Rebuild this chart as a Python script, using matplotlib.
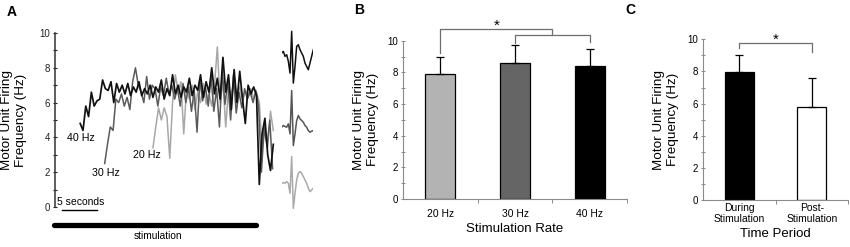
import numpy as np
import matplotlib
matplotlib.use("Agg")
import matplotlib.pyplot as plt

plt.rcParams['font.family'] = ['Liberation Sans', 'DejaVu Sans']

# ---- panel A: firing frequency traces (Hz), sampled every 0.4 s ----
t0_40, t0_30, t0_20 = 3.6, 7.1, 14.0
step = 0.4
f40 = [4.8, 4.4, 5.8, 5.2, 6.6, 5.8, 6.1, 6.2, 7.3, 6.8, 6.7, 7.2, 6.0, 7.1, 6.6, 7.0,
       6.5, 7.1, 6.4, 6.9, 6.6, 7.2, 6.4, 6.8, 6.5, 7.0, 6.3, 6.9, 6.6, 7.3, 6.2, 6.8,
       6.4, 7.6, 6.5, 7.0, 6.3, 6.9, 6.6, 7.4, 6.4, 7.0, 6.7, 7.6, 6.3, 7.2, 6.6, 8.0,
       6.5, 7.4, 6.2, 8.6, 6.6, 7.6, 5.6, 7.9, 6.0, 7.8, 6.2, 4.8, 7.0, 6.5, 6.9, 6.4,
       1.3, 4.2, 5.1, 3.0, 2.1, 3.6]
f30 = [2.5, 3.6, 4.6, 4.4, 6.2, 6.0, 6.5, 5.8, 6.3, 5.6, 7.2, 8.0, 7.0, 6.6, 6.0, 7.5,
       6.2, 7.0, 6.8, 5.8, 6.9, 6.4, 7.4, 6.5, 7.0, 6.2, 6.8, 5.8, 7.1, 6.0, 6.9, 5.5,
       6.7, 4.3, 7.3, 6.1, 6.9, 5.8, 7.5, 5.5, 6.8, 4.6, 7.8, 5.9, 7.2, 5.0, 7.6, 5.4,
       6.6, 5.7, 6.8, 6.2, 6.6, 6.0, 6.7, 5.8, 2.0, 4.6, 3.5, 5.0, 2.2]
f20 = [3.4, 4.6, 5.7, 5.0, 5.7, 5.2, 2.8, 6.0, 7.6, 6.6, 7.2, 4.2, 6.8, 6.2, 7.0, 5.6,
       6.6, 6.0, 7.1, 5.9, 6.5, 5.8, 7.0, 9.2, 6.0, 7.2, 4.6, 6.8, 6.4, 7.4, 6.3, 6.9,
       6.1, 6.7, 6.4, 6.8, 6.2, 6.6, 6.0, 3.3, 4.5, 3.4, 5.5, 4.4]
trace_labels = ["40 Hz", "30 Hz", "20 Hz"]

# spike waveforms (arbitrary units)
wave_40 = [0, 0.25, -0.5, -0.25, -1.25, -3, 3.25, -4.5, -2, 1, 1.25, 0.5, 0, -0.5,
           -1.5, -2, -2.5, -1.5, -0.5, 0.5]
wave_30 = [0, 0.25, 0.1, 0, 0.5, -1, 5.5, -2.75, -1, 1, 1.75, 1.25, 1, 0.75, 0.25,
           0, -0.5, -0.75, -0.6, -0.5]
wave_20 = [0, 0.1, 0, 0.25, 0, -1.5, 4, -3.75, -1.5, 0.5, 1.5, 1.75, 1.5, 1, 0.5,
           0, -0.75, -1.25, -1, -0.75]

# ---- panel B ----
rates = ["20 Hz", "30 Hz", "40 Hz"]
rate_mean = [7.9, 8.6, 8.4]
rate_sd = [1.1, 1.1, 1.05]
rate_colors = ["#b3b3b3", "#656565", "#000000"]

# ---- panel C ----
periods = ["During\nStimulation", "Post-\nStimulation"]
period_mean = [7.95, 5.8]
period_sd = [1.05, 1.8]
period_colors = ["#000000", "#ffffff"]

W, H = 850, 247
fig = plt.figure(figsize=(W / 100, H / 100), dpi=100)


def px_axes(x0, x1, ytop, ybot):
    return fig.add_axes([x0 / W, (H - ybot) / H, (x1 - x0) / W, (ybot - ytop) / H])


ylab = "Motor Unit Firing\nFrequency (Hz)"

# ================= A =================
axA = px_axes(55, 274, 33, 207)
for vals, t0, col, lw in [(f20, t0_20, "#a8a8a8", 1.1),
                          (f30, t0_30, "#5a5a5a", 1.1),
                          (f40, t0_40, "#111111", 1.25)]:
    t = t0 + step * np.arange(len(vals))
    axA.plot(t, vals, color=col, lw=lw, clip_on=False)
axA.set_xlim(0, 31.3)
axA.set_ylim(0, 10)
for s in ["top", "right", "bottom"]:
    axA.spines[s].set_visible(False)
axA.spines["left"].set_color("#333333")
axA.spines["left"].set_linewidth(1.1)
axA.set_xticks([])
axA.set_yticks(range(0, 11, 2))
axA.set_yticks(range(1, 10, 2), minor=True)
axA.tick_params(axis="y", which="both", direction="inout", length=3, width=0.8,
                labelsize=7, pad=2, colors="#222222")
axA.set_ylabel(ylab, fontsize=9.7, va="center", linespacing=1.15)
axA.yaxis.set_label_coords(-0.187, 0.5)

axA.text(3.7, 3.97, trace_labels[0], fontsize=7.7, ha="center", va="center")
axA.text(7.3, 1.95, trace_labels[1], fontsize=7.7, ha="center", va="center")
axA.text(13.2, 3.0, trace_labels[2], fontsize=7.7, ha="center", va="center")

# scale bar and stimulation bar
axA.plot([1, 6], [-0.2, -0.2], color="k", lw=1.0, clip_on=False)
axA.text(0.3, 0.0, "5 seconds", fontsize=7.5, ha="left", va="bottom")
axA.plot([-0.2, 28.7], [-1.03, -1.03], color="k", lw=3.8, solid_capstyle="round",
         clip_on=False)
axA.text(14.7, -1.68, "stimulation", fontsize=7.3, ha="center", va="center")

# waveforms
axW = px_axes(281.7, 313.3, 30, 210)
offsets = [0, -11.1, -19.5]
for w, off, col in [(wave_40, offsets[0], "#111111"),
                    (wave_30, offsets[1], "#555555"),
                    (wave_20, offsets[2], "#aaaaaa")]:
    axW.plot(np.arange(len(w)), np.array(w) + off, color=col, lw=1.1)
axW.set_xlim(0, 19)
axW.set_ylim(-23.5, 3.45)
axW.axis("off")


def bar_panel(ax, labels, means, sds, colors, xlabel, lab_x, tick_pad):
    x = np.arange(len(labels))
    ax.bar(x, means, width=0.4, color=colors, edgecolor="k", linewidth=0.9, zorder=2)
    ax.errorbar(x, means, yerr=[np.zeros(len(x)), sds], fmt="none", ecolor="k",
                elinewidth=0.9, capsize=3, capthick=0.9, zorder=3)
    ax.set_xlim(-0.5, len(x) - 0.5)
    ax.set_ylim(0, 10)
    for s in ["top", "right"]:
        ax.spines[s].set_visible(False)
    for s in ["left", "bottom"]:
        ax.spines[s].set_color("#8a8a8a")
        ax.spines[s].set_linewidth(0.8)
    ax.set_yticks(range(0, 11, 2))
    ax.set_yticks(range(1, 10, 2), minor=True)
    ax.tick_params(axis="y", which="both", direction="inout", length=3, width=0.7,
                   labelsize=7, pad=2, color="#8a8a8a")
    ax.set_xticks(x)
    ax.set_xticklabels(labels, fontsize=7.5, linespacing=1.1)
    ax.set_xticks(np.arange(len(x)) + 0.5, minor=True)
    ax.tick_params(axis="x", which="major", length=0, pad=tick_pad)
    ax.tick_params(axis="x", which="minor", direction="out", length=3, width=0.7,
                   color="#8a8a8a")
    ax.set_xlabel(xlabel, fontsize=9.5, labelpad=3)
    ax.set_ylabel(ylab, fontsize=9.7, va="center", linespacing=1.15)
    ax.yaxis.set_label_coords(lab_x, 0.5)


# ================= B =================
axB = px_axes(403, 627, 40.7, 199)
bar_panel(axB, rates, rate_mean, rate_sd, rate_colors, "Stimulation Rate", -0.165, 7)
bc = "#6e6e6e"
axB.plot([0, 0, 1.5, 1.5], [9.2, 10.75, 10.75, 10.38], color=bc, lw=0.9, clip_on=False)
axB.plot([1, 1, 2, 2], [9.85, 10.38, 10.38, 9.9], color=bc, lw=0.9, clip_on=False)
axB.text(0.75, 10.95, "*", fontsize=11, ha="center", va="center")

# ================= C =================
axC = px_axes(703, 848, 39.3, 200)
bar_panel(axC, periods, period_mean, period_sd, period_colors, "Time Period", -0.255, 2)
axC.plot([0, 0, 1, 1], [9.45, 9.75, 9.75, 9.2], color=bc, lw=0.9, clip_on=False)
axC.text(0.5, 9.95, "*", fontsize=11, ha="center", va="center")

# panel letters
fig.text(12 / W, 1 - 12 / H, "A", fontsize=10, fontweight="bold", ha="center", va="center")
fig.text(359 / W, 1 - 10 / H, "B", fontsize=10, fontweight="bold", ha="center", va="center")
fig.text(630 / W, 1 - 10 / H, "C", fontsize=10, fontweight="bold", ha="center", va="center")

fig.savefig("out.png", dpi=100)
